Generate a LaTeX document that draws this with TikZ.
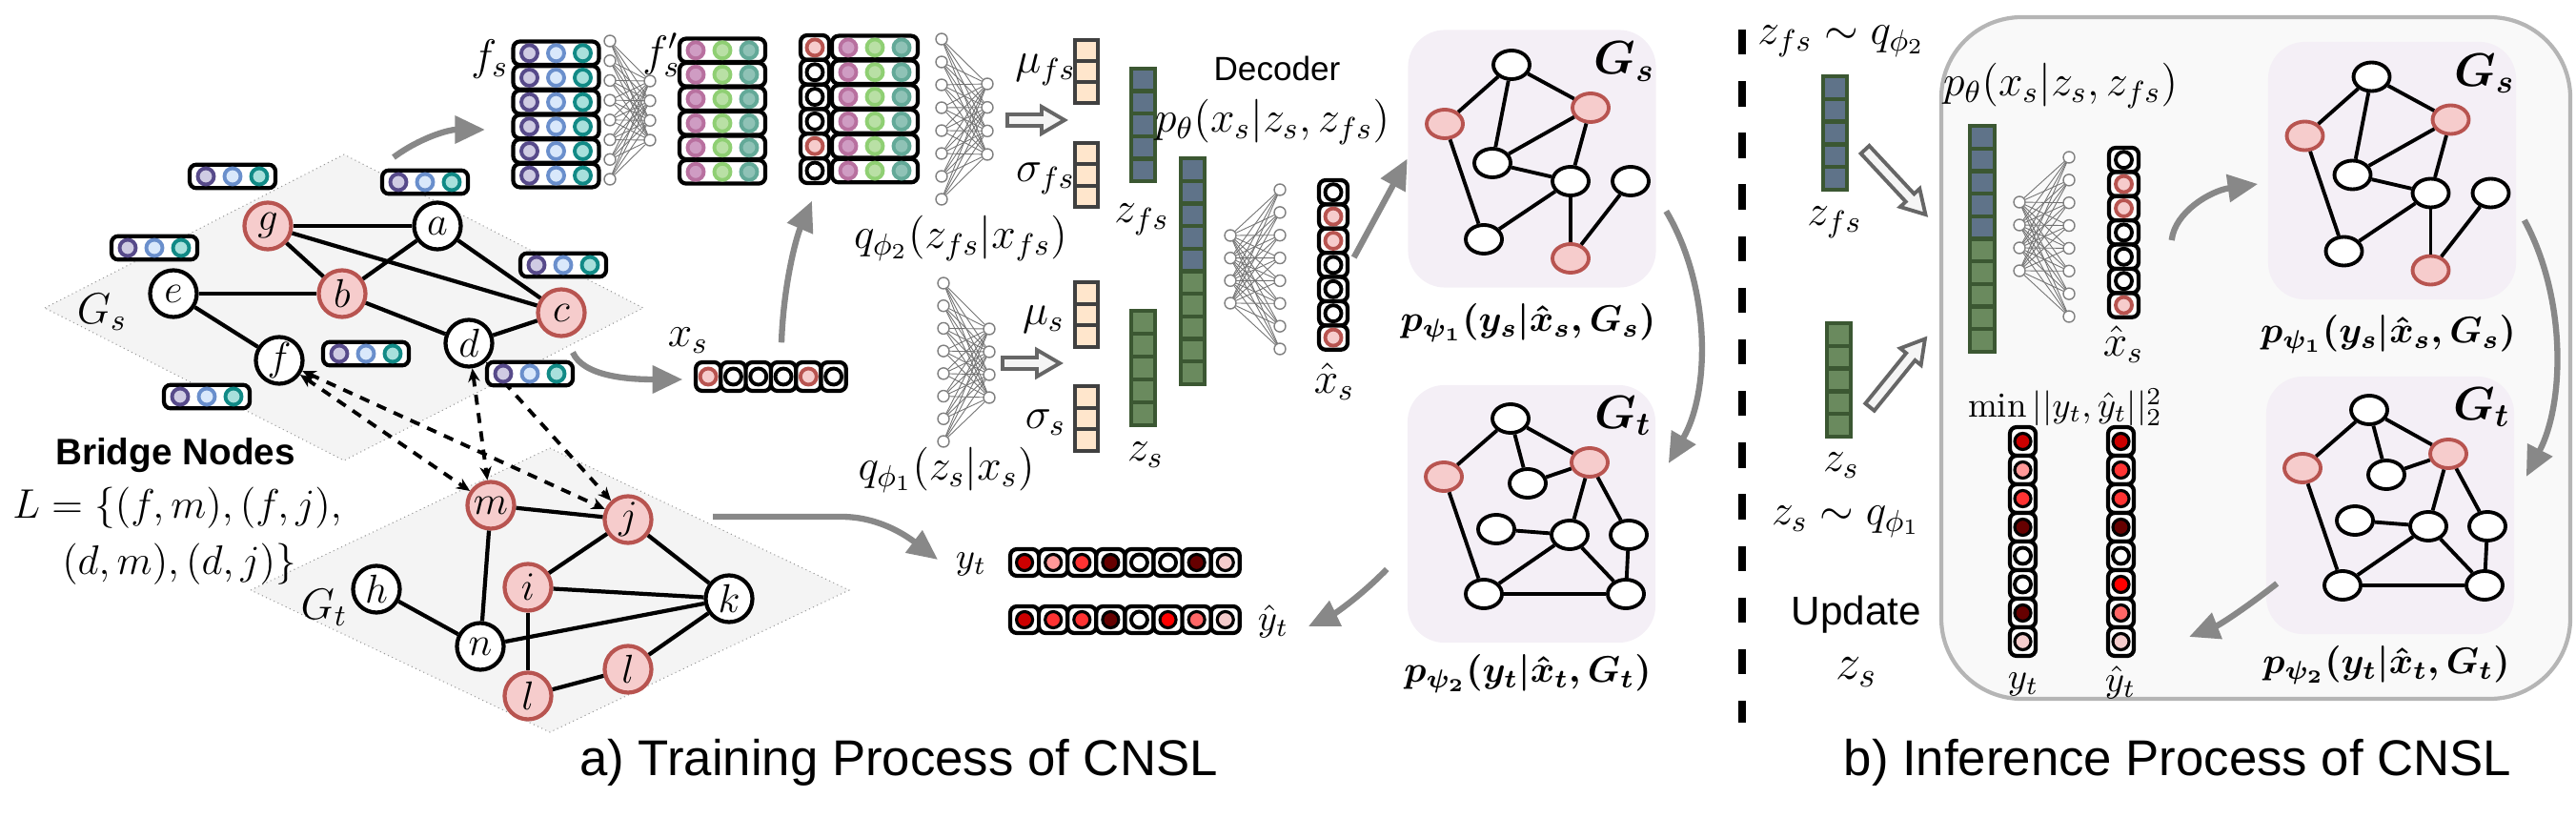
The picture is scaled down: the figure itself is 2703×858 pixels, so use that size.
\RequirePackage{fix-cm}
\documentclass[tikz,border=0pt]{standalone}
\usepackage{fontspec}
\newfontfamily\helv{Liberation Sans}
\usetikzlibrary{arrows.meta,shapes.geometric,fit}

\definecolor{nodered}{HTML}{F6CCCC}
\definecolor{nodeedge}{HTML}{B85450}
\definecolor{planegray}{HTML}{F4F4F4}
\definecolor{flowgray}{HTML}{888888}
\definecolor{fa}{HTML}{CFCBE3}\definecolor{faE}{HTML}{574A8A}
\definecolor{fb}{HTML}{D9E8FB}\definecolor{fbE}{HTML}{6A8FCC}
\definecolor{fc}{HTML}{A8E0DC}\definecolor{fcE}{HTML}{118A86}
\definecolor{pa}{HTML}{CF9CC3}\definecolor{paE}{HTML}{B8709F}
\definecolor{pb}{HTML}{B9E0A5}\definecolor{pbE}{HTML}{8FCF73}
\definecolor{pc}{HTML}{8FC2B6}\definecolor{pcE}{HTML}{63A998}
\definecolor{peach}{HTML}{FFE6CC}
\definecolor{zblue}{HTML}{5F7389}
\definecolor{zgreen}{HTML}{6A8A5E}
\definecolor{zedge}{HTML}{3B5732}
\definecolor{panelc}{HTML}{F4EFF6}
\definecolor{infbg}{HTML}{F9F9F9}
\definecolor{infedge}{HTML}{B5B5B5}
\definecolor{yA}{HTML}{CC0000}
\definecolor{yB}{HTML}{FF9999}
\definecolor{yC}{HTML}{FF3333}
\definecolor{yD}{HTML}{660000}
\definecolor{yF}{HTML}{FF0000}
\definecolor{yG}{HTML}{FF6666}
\definecolor{yH}{HTML}{F4CCCC}

% one row of node features: centre x, centre y, three dot styles
\newcommand\featrow[5]{%
  \draw[cellbox] ({#1-45},{#2-12.3}) rectangle ({#1+45},{#2+12.3});
  \draw[#3] ({#1-28},#2) circle (8.5);
  \draw[#4] (#1,#2) circle (8.5);
  \draw[#5] ({#1+28},#2) circle (8.5);
}
% vectors of boxed dots: x0, y0, cell width, cell height, dot styles
\newcommand\hcells[5]{%
  \foreach \ds [count=\k from 0] in {#5}{
    \draw[cellbox] ({#1+\k*#3},#2) rectangle ++(#3,#4);
    \draw[\ds] ({#1+(\k+0.5)*#3},{#2+0.5*#4}) circle (8.5);
  }}
\newcommand\vcells[5]{%
  \foreach \ds [count=\k from 0] in {#5}{
    \draw[cellbox] (#1,{#2+\k*#4}) rectangle ++(#3,#4);
    \draw[\ds] ({#1+0.5*#3},{#2+(\k+0.5)*#4}) circle (8.5);
  }}
% column of square cells
\newcommand\sqcol[5]{%
  \foreach \cs [count=\k from 0] in {#5}
    \draw[\cs] (#1,{#2+\k*#4}) rectangle ++(#3,#4);
}
% invisible node spanning a vector
\newcommand\spannode[5]{%
  \path (#2,#3) coordinate (#1-nw) (#4,#5) coordinate (#1-se);
  \node[fit=(#1-nw)(#1-se)] (#1) {};
}
% two fully connected layers
\newcommand\nnet[8]{%
  \foreach \i in {1,...,#4}{
    \foreach \j in {1,...,#8}{
      \draw[nnedge] (#1,{#2+(\i-1)*(#3-#2)/(#4-1)}) -- (#5,{#6+(\j-1)*(#7-#6)/(#8-1)});
    }
  }
  \foreach \i in {1,...,#4} \draw[nncirc] (#1,{#2+(\i-1)*(#3-#2)/(#4-1)}) circle (6);
  \foreach \j in {1,...,#8} \draw[nncirc] (#5,{#6+(\j-1)*(#7-#6)/(#8-1)}) circle (6);
}

\tikzset{
  every node/.style={inner sep=0pt},
  lbl/.style={font=\fontsize{13}{15}\selectfont},
  smalllbl/.style={font=\fontsize{11}{13}\selectfont},
  sanslbl/.style={font=\helv\fontsize{10}{12}\selectfont},
  caption/.style={font=\helv\fontsize{15}{18}\selectfont, anchor=base},
  gnode/.style={circle, draw, line width=1.2pt, fill=white, minimum size=0.49cm,
    font=\fontsize{12}{14}\selectfont},
  rnode/.style={gnode, fill=nodered, draw=nodeedge},
  gedge/.style={line width=1.2pt},
  plane/.style={fill=planegray, draw=gray!80, densely dotted, line width=0.3pt},
  bridge/.style={line width=1.1pt, dash pattern=on 3pt off 2.5pt,
    {Stealth[length=4pt,width=3.5pt]}-{Stealth[length=4pt,width=3.5pt]}},
  flow/.style={draw=flowgray, line width=1.8pt, -{Triangle[length=9pt,width=8pt]}},
  cellbox/.style={draw=black, line width=1.2pt, fill=white, rounded corners=2pt},
  fA/.style={fill=fa, draw=faE, line width=1.1pt},
  fB/.style={fill=fb, draw=fbE, line width=1.1pt},
  fC/.style={fill=fc, draw=fcE, line width=1.1pt},
  pA/.style={fill=pa, draw=paE, line width=1.1pt},
  pB/.style={fill=pb, draw=pbE, line width=1.1pt},
  pC/.style={fill=pc, draw=pcE, line width=1.1pt},
  dotR/.style={fill=nodered, draw=nodeedge, line width=1.1pt},
  dotW/.style={fill=white, draw=black, line width=1.1pt},
  dotA/.style={fill=yA, draw=black, line width=0.9pt},
  dotB/.style={fill=yB, draw=black, line width=0.9pt},
  dotC/.style={fill=yC, draw=black, line width=0.9pt},
  dotD/.style={fill=yD, draw=black, line width=0.9pt},
  dotF/.style={fill=yF, draw=black, line width=0.9pt},
  dotG/.style={fill=yG, draw=black, line width=0.9pt},
  dotH/.style={fill=yH, draw=black, line width=0.9pt},
  pch/.style={fill=peach, draw=black!75, line width=1.1pt},
  zb/.style={fill=zblue, draw=zedge, line width=1.2pt},
  zg/.style={fill=zgreen, draw=zedge, line width=1.2pt},
  nnedge/.style={draw=black!55, line width=0.25pt},
  nncirc/.style={fill=white, draw=black!50, line width=0.4pt},
  blockarr/.style={fill=black!4, draw=black!60, line width=1.1pt},
  divider/.style={line width=2.5pt, dash pattern=on 7.5pt off 7.9pt},
  infpanel/.style={fill=infbg, draw=infedge, line width=1.2pt, rounded corners=24pt},
  panel/.style={rectangle, rounded corners=11pt, fill=panelc,
    minimum width=2.6cm, minimum height=2.7cm},
  pw/.style={ellipse, draw, line width=1.1pt, fill=white,
    minimum width=0.38cm, minimum height=0.3cm},
  pr/.style={pw, fill=nodered, draw=nodeedge},
  pedge/.style={line width=1.1pt},
  plbl/.style={font=\fontsize{11}{13}\selectfont\boldmath},
  glbl/.style={font=\fontsize{14}{16}\selectfont\boldmath},
  pics/hollow/.style={code={
    \draw[blockarr] (0,-6) -- ({#1-24},-6) -- ({#1-24},-14) -- (#1,0)
      -- ({#1-24},14) -- ({#1-24},6) -- (0,6) -- cycle;
  }},
  pics/gspanel/.style={code={
    \node[panel] (-box) at (0,0) {};
    \node[pw] (-n1) at (-21.5,-98.5) {};
    \node[pr] (-n2) at (-91.5,-36.5) {};
    \node[pr] (-n3) at (61.5,-53.5) {};
    \node[pw] (-n4) at (-41.5,4.5) {};
    \node[pw] (-n5) at (40.5,23.5) {};
    \node[pw] (-n6) at (103.5,23.5) {};
    \node[pw] (-n7) at (-50.5,84.5) {};
    \node[pr] (-n8) at (40.5,104.5) {};
    \foreach \u/\v in {n1/n2,n1/n4,n1/n3,n2/n7,n4/n3,n4/n5,n3/n5,n5/n7,n5/n8,n8/n6}
      \draw[pedge] (-\u) -- (-\v);
    \node[glbl] at (97,-102) {$G_s$};
    \node[plbl] at (-4,172) {$p_{\psi_1}(y_s|\hat{x}_s,G_s)$};
  }},
  pics/gtpanel/.style={code={
    \node[panel] (-box) at (0,0) {};
    \node[pw] (-t1) at (-22,-100) {};
    \node[pr] (-t2) at (-92,-39) {};
    \node[pr] (-t3) at (61,-54) {};
    \node[pw] (-t4) at (-4,-32) {};
    \node[pw] (-t5) at (-37,16) {};
    \node[pw] (-t6) at (40,22) {};
    \node[pw] (-t7) at (102,22) {};
    \node[pw] (-t8) at (-50,84) {};
    \node[pw] (-t9) at (99,84) {};
    \foreach \u/\v in {t1/t2,t1/t4,t1/t3,t4/t3,t2/t8,t3/t6,t3/t7,t5/t6,t6/t8,t6/t9,t7/t9,t8/t9}
      \draw[pedge] (-\u) -- (-\v);
    \node[glbl] at (96,-103) {$G_t$};
    \node[plbl] at (-4,168) {$p_{\psi_2}(y_t|\hat{x}_t,G_t)$};
  }},
}

\begin{document}
\begin{tikzpicture}[x=0.01cm, y=-0.01cm]
\useasboundingbox (0,0) rectangle (2703,858);

% ---------- a) training ----------
\draw[plane] (47,323) -- (361,162) -- (675,323) -- (361,483) -- cycle;
\draw[plane] (263,619) -- (577,470) -- (891,619) -- (577,768) -- cycle;
\node[lbl] at (107,327) {$G_s$};
\node[lbl] at (340,637) {$G_t$};

% source graph
\node[rnode] (g) at (281,237) {$g$};
\node[gnode] (a) at (459,237) {$a$};
\node[gnode] (e) at (182,308) {$e$};
\node[rnode] (b) at (359,308) {$b$};
\node[rnode] (c) at (589,328) {$c$};
\node[gnode] (d) at (492,360) {$d$};
\node[gnode] (f) at (293,378) {$f$};
\foreach \u/\v in {g/a,g/b,g/c,a/b,a/c,e/b,e/f,b/d,d/c}
  \draw[gedge] (\u) -- (\v);

% target graph
\node[rnode] (m) at (515,530) {$m$};
\node[rnode] (j) at (659,545) {$j$};
\node[gnode] (h) at (395,618) {$h$};
\node[rnode] (i) at (554,616) {$i$};
\node[gnode] (k) at (765,628) {$k$};
\node[gnode] (n) at (504,678) {$n$};
\node[rnode] (l1) at (554,730) {$l$};
\node[rnode] (l2) at (659,702) {$l$};
\foreach \u/\v in {m/j,m/n,j/i,j/k,i/k,h/n,n/k,i/l1,l1/l2,l2/k}
  \draw[gedge] (\u) -- (\v);

% bridge links
\foreach \u/\v in {f/m,f/j,d/m,d/j}
  \draw[bridge] (\u) -- (\v);

% node features on G_s
\foreach \cx/\cy in {244/185,446/191,162/260,591/278,384/371,556/392,217/416}
  \featrow{\cx}{\cy}{fA}{fB}{fC};

\node[font=\helv\bfseries\fontsize{11}{13}\selectfont] at (184,478) {Bridge Nodes};
\node[font=\fontsize{12.3}{14}\selectfont] at (186,533) {$L=\{(f,m),(f,j),$};
\node[font=\fontsize{12.3}{14}\selectfont] at (188,592) {$(d,m),(d,j)\}$};

% feature matrices
\foreach \r in {0,...,5} \featrow{583.5}{55.8+\r*25.67}{fA}{fB}{fC};
\spannode{fsA}{538}{43}{629}{197}
\node[lbl] at (514,62) {$f_s$};
\nnet{640}{43}{188}{8}{682}{85}{147}{4}
\foreach \r in {0,...,5} \featrow{758}{52.8+\r*25.5}{pA}{pB}{pC};
\node[lbl] at (694,58) {$f'_s$};
\vcells{840}{37}{30}{25.83}{dotR,dotW,dotW,dotW,dotR,dotW}
\spannode{catx}{840}{37}{870}{192}
\foreach \r in {0,...,5} \featrow{918}{49.9+\r*25.83}{pA}{pB}{pC};

% source vector
\hcells{730}{380}{26.3}{30}{dotR,dotW,dotW,dotW,dotR,dotW}
\spannode{xsA}{730}{380}{888}{410}
\node[lbl] at (722,357) {$x_s$};

% encoders
\nnet{988}{41}{209}{8}{1036}{88}{162}{4}
\nnet{990}{297}{463}{8}{1038}{345}{417}{4}
\node[lbl] at (1008,250) {$q_{\phi_2}(z_{fs}|x_{fs})$};
\node[lbl] at (993,493) {$q_{\phi_1}(z_s|x_s)$};
\pic at (1057,126) {hollow=60};
\pic at (1052,381) {hollow=60};
\sqcol{1128}{42}{24}{22}{pch,pch,pch}
\sqcol{1128}{150}{24}{22.3}{pch,pch,pch}
\sqcol{1128}{296}{24}{22.6}{pch,pch,pch}
\sqcol{1128}{405}{24}{22.6}{pch,pch,pch}
\node[lbl] at (1097,73) {$\mu_{fs}$};
\node[lbl] at (1097,187) {$\sigma_{fs}$};
\node[lbl] at (1095,335) {$\mu_s$};
\node[lbl] at (1097,443) {$\sigma_s$};
\sqcol{1187}{72}{25}{23.6}{zb,zb,zb,zb,zb}
\sqcol{1187}{326}{25}{24}{zg,zg,zg,zg,zg}
\node[lbl] at (1198,230) {$z_{fs}$};
\node[lbl] at (1202,477) {$z_s$};

% decoder
\sqcol{1239}{166}{25}{23.7}{zb,zb,zb,zb,zb,zg,zg,zg,zg,zg}
\node[sanslbl] at (1340,72) {Decoder};
\node[lbl] at (1335,128) {$p_\theta(x_s|z_s,z_{fs})$};
\nnet{1291}{247}{318}{4}{1343}{199}{366}{8}
\vcells{1384}{189}{30}{25.4}{dotW,dotR,dotR,dotW,dotW,dotW,dotR}
\spannode{xhatA}{1384}{189}{1414}{367}
\node[lbl] at (1400,400) {$\hat{x}_s$};

% labels of the target graph
\hcells{1060}{576}{30.1}{28}{dotA,dotB,dotC,dotD,dotW,dotW,dotD,dotH}
\hcells{1060}{636}{30.1}{28}{dotA,dotC,dotC,dotD,dotW,dotF,dotG,dotH}
\node[smalllbl] (ytlbl) at (1019,592) {$y_t$};
\node[smalllbl] (yhatlbl) at (1336,652) {$\hat{y}_t$};

% diffusion models
\pic (gsA) at (1607.5,166.5) {gspanel};
\pic (gtA) at (1607,539) {gtpanel};

% flows
\coordinate (gsout) at (413,165);
\coordinate (fsin) at (509,136);
\coordinate (gtout) at (748,542);
\draw[flow] (gsout) .. controls (440,145) and (470,136) .. (fsin);
\draw[flow] ([shift={(12,15)}]c.south) .. controls (612,395) and (660,398) .. ([shift={(-13,3)}]xsA.west);
\draw[flow] ([shift={(11,-20)}]xsA.north) .. controls (822,300) and (835,250) .. ([shift={(-3,18)}]catx.south);
\draw[flow] (gtout) -- (883,542) .. controls (925,542) and (955,565) .. ([shift={(-18,-5)}]ytlbl.west);
\draw[flow] ([shift={(6,-8)}]xhatA.east) -- (gsA-box.west);
\draw[flow] ([shift={(10,55)}]gsA-box.east) .. controls (1795,300) and (1795,410) .. ([shift={(13,-53)}]gtA-box.east);
\draw[flow] ([shift={(-21,58)}]gtA-box.west) .. controls (1425,628) and (1398,645) .. ([shift={(20,5)}]yhatlbl.east);

\node[caption] at (943,813) {a) Training Process of CNSL};

% ---------- divider ----------
\draw[divider] (1828,31) -- (1828,758);

% ---------- b) inference ----------
\draw[infpanel] (2037,18) rectangle (2697,733);
\node[lbl] at (1932,43) {$z_{fs}\sim q_{\phi_2}$};
\sqcol{1913}{80}{25}{23.8}{zb,zb,zb,zb,zb}
\node[lbl] at (1925,233) {$z_{fs}$};
\sqcol{1917}{339}{25}{23.8}{zg,zg,zg,zg,zg}
\node[lbl] at (1932,488) {$z_s$};
\node[lbl] at (1937,547) {$z_s\sim q_{\phi_1}$};
\node[font=\helv\fontsize{12}{14}\selectfont] at (1948,645) {Update};
\node[font=\fontsize{15}{17}\selectfont] at (1948,705) {$z_s$};
\pic[rotate=-47] at (1957,157) {hollow=93};
\pic[rotate=51] at (1962,427) {hollow=92};

\node[lbl] at (2162,90) {$p_\theta(x_s|z_s,z_{fs})$};
\sqcol{2067}{132}{26}{23.7}{zb,zb,zb,zb,zb,zg,zg,zg,zg,zg}
\nnet{2119}{212}{284}{4}{2171}{165}{332}{8}
\vcells{2213}{155}{31}{25.4}{dotW,dotR,dotR,dotW,dotW,dotW,dotR}
\spannode{xhatB}{2213}{155}{2244}{333}
\node[lbl] at (2228,361) {$\hat{x}_s$};
\node[font=\fontsize{10.5}{12}\selectfont] at (2167,427) {$\min||y_t,\hat{y}_t||_2^2$};
\vcells{2109}{448}{27}{30}{dotA,dotB,dotC,dotD,dotW,dotW,dotD,dotH}
\vcells{2212}{448}{27}{30}{dotA,dotC,dotC,dotD,dotW,dotF,dotG,dotH}
\spannode{yhatB}{2212}{448}{2238}{688}
\node[smalllbl] at (2123,718) {$y_t$};
\node[smalllbl] at (2225,716) {$\hat{y}_t$};

\pic (gsB) at (2510,179) {gspanel};
\pic (gtB) at (2508,530) {gtpanel};

\coordinate (ytin) at (2297,668);
\draw[flow] ([shift={(34,8)}]xhatB.east) .. controls (2282,222) and (2320,200) .. ([shift={(-10,14)}]gsB-box.west);
\draw[flow] ([shift={(8,52)}]gsB-box.east) .. controls (2692,310) and (2692,420) .. ([shift={(12,-30)}]gtB-box.east);
\draw[flow] ([shift={(12,82)}]gtB-box.west) .. controls (2360,635) and (2330,655) .. (ytin);

\node[caption] at (2285,813) {b) Inference Process of CNSL};
\end{tikzpicture}
\end{document}
